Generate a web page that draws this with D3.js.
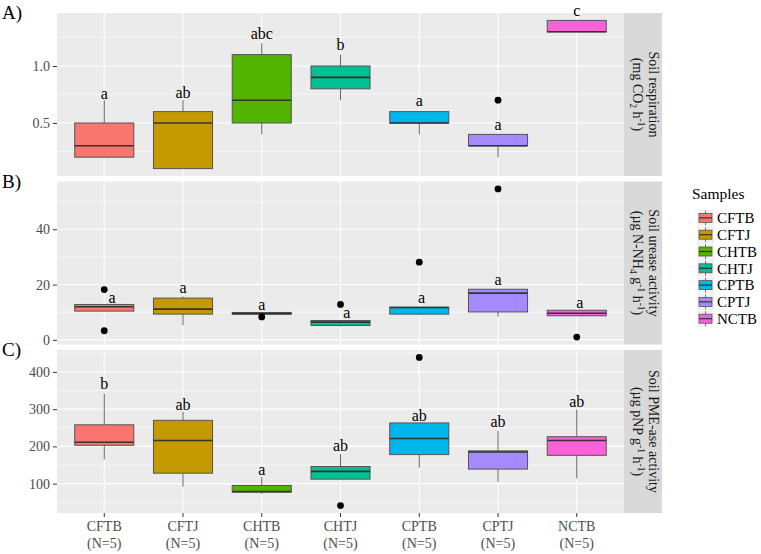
<!DOCTYPE html>
<html>
<head>
<meta charset="utf-8">
<title>soil boxplots</title>
<script src="https://d3js.org/d3.v7.min.js"></script>
<style>
  body { margin: 0; background: #fff; }
</style>
</head>
<body>
<div id="container"></div>
<script>
const samples = ['CFTB', 'CFTJ', 'CHTB', 'CHTJ', 'CPTB', 'CPTJ', 'NCTB'];
const fills = ['#F8766D', '#C49A00', '#53B400', '#00C094', '#00B6EB', '#A58AFF', '#FB61D7'];

// [lower whisker, Q1, median, Q3, upper whisker]
const respStats = [
  [0.2, 0.2, 0.3, 0.5, 0.7],
  [0.1, 0.1, 0.5, 0.6, 0.7],
  [0.4, 0.5, 0.7, 1.1, 1.2],
  [0.7, 0.8, 0.9, 1.0, 1.1],
  [0.4, 0.5, 0.5, 0.6, 0.6],
  [0.2, 0.3, 0.3, 0.4, 0.4],
  [1.3, 1.3, 1.3, 1.4, 1.4]
];
const respOutliers = [[], [], [], [], [], [0.7], []];
const respLetters = ['a', 'ab', 'abc', 'b', 'a', 'a', 'c'];
const respLetterY = [0.76, 0.77, 1.29, 1.19, 0.70, 0.49, 1.49];

const ureaseStats = [
  [10.4, 10.4, 12.0, 12.8, 12.8],
  [5.3, 9.3, 11.1, 15.1, 15.7],
  [9.3, 9.3, 9.5, 9.9, 9.9],
  [4.8, 5.2, 6.4, 7.0, 7.0],
  [9.0, 9.3, 11.7, 11.8, 11.8],
  [8.4, 10.1, 16.9, 18.3, 18.3],
  [8.7, 8.7, 9.6, 10.7, 10.7]
];
const ureaseOutliers = [[18.2, 3.3], [], [8.3], [12.8], [28.1], [54.6], [1.0]];
const ureaseLetters = ['a', 'a', 'a', 'a', 'a', 'a', 'a'];
const ureaseLetterY = [15.3, 19.0, 13.0, 9.9, 15.3, 21.7, 13.6];

const pmeStats = [
  [165, 203, 211, 258, 342],
  [92, 128, 216, 270, 293],
  [72, 77, 79, 95, 118],
  [112, 112, 133, 146, 179],
  [143, 178, 221, 263, 263],
  [105, 139, 185, 188, 241],
  [114, 176, 216, 226, 299]
];
const pmeOutliers = [[], [], [], [41], [439], [], []];
const pmeLetters = ['b', 'ab', 'a', 'ab', 'ab', 'ab', 'ab'];
const pmeLetterY = [369, 313, 139, 204, 284, 268, 322];

// small sideways nudge of the letters in panel B (fraction of a band)
const ureaseLetterDx = [0.1, 0, 0, 0.08, 0.03, 0, 0.04];

const w = 761, h = 554;
const left = 57, right = 624, stripW = 38;
const serif = '"Liberation Serif", "Times New Roman", Times, serif';

const svg = d3.select('#container').append('svg')
  .attr('width', w).attr('height', h)
  .attr('font-family', serif)
  .style('font-family', serif);

const x = d3.scalePoint().domain(samples).range([left, right]).padding(0.6);
const step = x.step();
const boxW = step * 0.75;

const panels = [
  {tag: 'A)', top: 13, bottom: 176, stats: respStats, out: respOutliers,
   letters: respLetters, letterY: respLetterY, dx: [0,0,0,0,0,0,0],
   major: [0.5, 1.0], minor: [0.25, 0.75, 1.25], fmt: d3.format('.1f'),
   strip: ['Soil respiration', [['(mg CO'], ['2', 'sub'], [' h'], ['-1', 'sup'], [')']]]},
  {tag: 'B)', top: 181.5, bottom: 344.5, stats: ureaseStats, out: ureaseOutliers,
   letters: ureaseLetters, letterY: ureaseLetterY, dx: ureaseLetterDx,
   major: [0, 20, 40], minor: [10, 30, 50], fmt: d3.format('d'),
   strip: ['Soil urease activity', [['(\u00b5g N-NH'], ['4', 'sub'], [' g'], ['-1', 'sup'], [' h'], ['-1', 'sup'], [')']]]},
  {tag: 'C)', top: 350, bottom: 513, stats: pmeStats, out: pmeOutliers,
   letters: pmeLetters, letterY: pmeLetterY, dx: [0,0,0,0,0,0,0],
   major: [100, 200, 300, 400], minor: [50, 150, 250, 350, 450], fmt: d3.format('d'),
   strip: ['Soil PME-ase activity', [['(\u00b5g pNP g'], ['-1', 'sup'], [' h'], ['-1', 'sup'], [')']]]}
];

panels.forEach((p, pi) => {
  // ggplot-like 5% expansion of the data range
  const all = p.stats.flat().concat(p.out.flat());
  const [mn, mx] = d3.extent(all);
  const pad = (mx - mn) * 0.05;
  const y = d3.scaleLinear().domain([mn - pad, mx + pad]).range([p.bottom, p.top]);

  const g = svg.append('g');

  g.append('rect')
    .attr('x', left).attr('y', p.top)
    .attr('width', right - left).attr('height', p.bottom - p.top)
    .attr('fill', '#EBEBEB');

  g.selectAll('.minor').data(p.minor.filter(v => y(v) > p.top && y(v) < p.bottom))
    .join('line')
    .attr('x1', left).attr('x2', right)
    .attr('y1', d => y(d)).attr('y2', d => y(d))
    .attr('stroke', '#fff').attr('stroke-width', 0.55);

  g.selectAll('.major').data(p.major)
    .join('line')
    .attr('x1', left).attr('x2', right)
    .attr('y1', d => y(d)).attr('y2', d => y(d))
    .attr('stroke', '#fff').attr('stroke-width', 1.1);

  g.selectAll('.vgrid').data(samples)
    .join('line')
    .attr('x1', d => x(d)).attr('x2', d => x(d))
    .attr('y1', p.top).attr('y2', p.bottom)
    .attr('stroke', '#fff').attr('stroke-width', 1.1);

  // y axis
  const ax = svg.append('g')
    .attr('transform', `translate(${left},0)`)
    .call(d3.axisLeft(y).tickValues(p.major).tickFormat(p.fmt).tickSize(4).tickPadding(3));
  ax.attr('font-family', serif).attr('font-size', 14);
  ax.select('.domain').remove();
  ax.selectAll('line').attr('stroke', '#333');
  ax.selectAll('text').attr('fill', '#4D4D4D');

  // boxes
  const boxes = g.selectAll('.box').data(samples).join('g');
  boxes.append('line')
    .attr('x1', d => x(d)).attr('x2', d => x(d))
    .attr('y1', (d, i) => y(p.stats[i][4])).attr('y2', (d, i) => y(p.stats[i][3]))
    .attr('stroke', '#666').attr('stroke-width', 1);
  boxes.append('line')
    .attr('x1', d => x(d)).attr('x2', d => x(d))
    .attr('y1', (d, i) => y(p.stats[i][1])).attr('y2', (d, i) => y(p.stats[i][0]))
    .attr('stroke', '#666').attr('stroke-width', 1);
  boxes.append('rect')
    .attr('x', d => x(d) - boxW / 2).attr('width', boxW)
    .attr('y', (d, i) => y(p.stats[i][3]))
    .attr('height', (d, i) => Math.max(1, y(p.stats[i][1]) - y(p.stats[i][3])))
    .attr('fill', (d, i) => fills[i])
    .attr('stroke', '#555').attr('stroke-width', 1);
  boxes.append('line')
    .attr('x1', d => x(d) - boxW / 2).attr('x2', d => x(d) + boxW / 2)
    .attr('y1', (d, i) => y(p.stats[i][2])).attr('y2', (d, i) => y(p.stats[i][2]))
    .attr('stroke', '#333').attr('stroke-width', 1.6);

  // outliers
  const pts = [];
  p.out.forEach((arr, i) => arr.forEach(v => pts.push({s: samples[i], v})));
  g.selectAll('.pt').data(pts).join('circle')
    .attr('cx', d => x(d.s)).attr('cy', d => y(d.v)).attr('r', 3.4)
    .attr('fill', '#000');

  // letters
  g.selectAll('.letter').data(samples).join('text')
    .attr('x', (d, i) => x(d) + p.dx[i] * step)
    .attr('y', (d, i) => y(p.letterY[i]))
    .attr('dy', '0.35em')
    .attr('text-anchor', 'middle')
    .attr('font-size', 16)
    .attr('fill', '#000')
    .text((d, i) => p.letters[i]);

  // panel tag
  svg.append('text')
    .attr('x', 2).attr('y', p.top + 6)
    .attr('font-size', 19).attr('fill', '#000')
    .text(p.tag);

  // strip
  svg.append('rect')
    .attr('x', right).attr('y', p.top)
    .attr('width', stripW).attr('height', p.bottom - p.top)
    .attr('fill', '#D9D9D9');
  const sg = svg.append('g')
    .attr('transform', `translate(${right + stripW / 2},${(p.top + p.bottom) / 2}) rotate(90)`);
  sg.append('text')
    .attr('x', 0).attr('y', -10.5).attr('dy', '0.35em')
    .attr('text-anchor', 'middle').attr('fill', '#1A1A1A')
    .attr('font-size', 14)
    .text(p.strip[0]);
  const t2 = sg.append('text')
    .attr('x', 0).attr('y', 10.5).attr('dy', '0.35em')
    .attr('text-anchor', 'middle').attr('fill', '#1A1A1A')
    .attr('font-size', 14);
  let shift = 0;
  p.strip[1].forEach(([s, kind]) => {
    const target = kind === 'sub' ? 3 : kind === 'sup' ? -5 : 0;
    t2.append('tspan')
      .attr('dy', target - shift)
      .attr('font-size', kind ? 9.5 : 14)
      .text(s);
    shift = target;
  });
});

// x axis under the last panel
const last = panels[panels.length - 1];
const xa = svg.append('g').attr('transform', `translate(0,${last.bottom})`);
xa.selectAll('line').data(samples).join('line')
  .attr('x1', d => x(d)).attr('x2', d => x(d))
  .attr('y1', 0).attr('y2', 4).attr('stroke', '#333');
xa.selectAll('.lab1').data(samples).join('text')
  .attr('x', d => x(d)).attr('y', 18)
  .attr('text-anchor', 'middle').attr('fill', '#4D4D4D')
  .attr('font-size', 14).text(d => d);
xa.selectAll('.lab2').data(samples).join('text')
  .attr('x', d => x(d)).attr('y', 35)
  .attr('text-anchor', 'middle').attr('fill', '#4D4D4D')
  .attr('font-size', 14).text('(N=5)');

// legend
const lg = svg.append('g').attr('transform', 'translate(692,0)');
lg.append('text').attr('x', 0).attr('y', 199)
  .attr('font-size', 15.5).attr('fill', '#000').text('Samples');
const rowH = 16.8, row0 = 209.5;
const items = lg.selectAll('.item').data(samples).join('g')
  .attr('transform', (d, i) => `translate(5,${row0 + i * rowH})`);
items.append('rect').attr('width', 17).attr('height', rowH)
  .attr('fill', '#F2F2F2');
items.append('line').attr('x1', 8.5).attr('x2', 8.5).attr('y1', 1).attr('y2', rowH - 1)
  .attr('stroke', '#777');
items.append('rect').attr('x', 2).attr('y', rowH / 2 - 4.5).attr('width', 13).attr('height', 9)
  .attr('fill', (d, i) => fills[i]).attr('stroke', '#555').attr('stroke-width', 0.8);
items.append('line').attr('x1', 2).attr('x2', 15).attr('y1', rowH / 2).attr('y2', rowH / 2)
  .attr('stroke', '#333').attr('stroke-width', 1.2);
items.append('text').attr('x', 20).attr('y', rowH / 2).attr('dy', '0.35em')
  .attr('font-size', 15).attr('fill', '#000').text(d => d);
</script>
</body>
</html>
